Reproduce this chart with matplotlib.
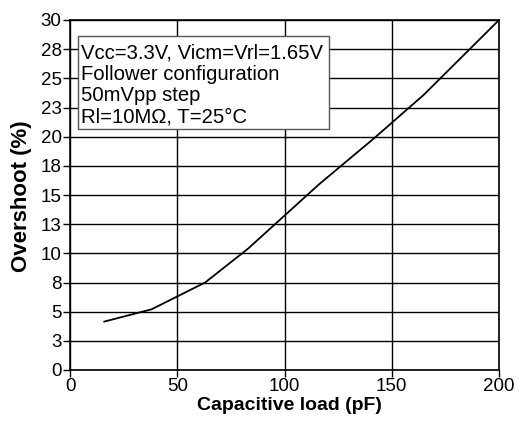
import matplotlib
matplotlib.use("Agg")
import matplotlib.pyplot as plt
from matplotlib.patches import Rectangle

plt.rcParams['font.family'] = ['Liberation Sans', 'DejaVu Sans']

# data
cap_pf = [16, 38, 63, 83, 116, 142, 165, 200]
overshoot = [4.15, 5.2, 7.5, 10.4, 15.9, 19.9, 23.6, 30.0]

x_ticks = [0, 50, 100, 150, 200]
y_ticks = [0, 2.5, 5, 7.5, 10, 12.5, 15, 17.5, 20, 22.5, 25, 27.5, 30]
y_labels = ['0', '3', '5', '8', '10', '13', '15', '18', '20', '23', '25', '28', '30']
note_lines = ['Vcc=3.3V, Vicm=Vrl=1.65V', 'Follower configuration',
              '50mVpp step', 'Rl=10M\u03a9, T=25\u00b0C']

W, H = 519, 421
fig = plt.figure(figsize=(W / 100, H / 100), dpi=100)
L, R, T, B = 70, 499, 20, 370
ax = fig.add_axes([L / W, 1 - B / H, (R - L) / W, (B - T) / H])

ax.plot(cap_pf, overshoot, color='black', lw=1.3, zorder=3)
ax.set_xlim(0, 200)
ax.set_ylim(0, 30)
ax.set_xticks(x_ticks)
ax.set_yticks(y_ticks)
ax.set_yticklabels(y_labels)
ax.tick_params(labelsize=13.5, length=5, width=1, direction='out', pad=1)
ax.grid(True, color='black', lw=1)
for s in ax.spines.values():
    s.set_linewidth(1.2)

# note box in pixel-based axes coords
def px(xp, yp):
    return (xp - L) / (R - L), (B - yp) / (B - T)

ax.set_xlabel('Capacitive load (pF)', fontsize=14, fontweight='bold', labelpad=1)
ax.xaxis.label.set_x(px(289.5, 0)[0])
ax.set_ylabel('Overshoot (%)', fontsize=16, fontweight='bold')
ax.yaxis.set_label_coords(*px(21.5, 196.5))
ax.yaxis.label.set_va('center')

x0, y0 = px(78, 128.5)
x1, y1 = px(329, 36)
ax.add_patch(Rectangle((x0, y0), x1 - x0, y1 - y0, transform=ax.transAxes,
                       facecolor='white', edgecolor='#555555', lw=1, zorder=4))
baselines = [58.3, 79.5, 101, 122.5]
for line, yb in zip(note_lines, baselines):
    tx, ty = px(81, yb)
    ax.text(tx, ty, line, transform=ax.transAxes, fontsize=14.6,
            va='baseline', ha='left', zorder=5)

fig.savefig('out.png', dpi=100)
